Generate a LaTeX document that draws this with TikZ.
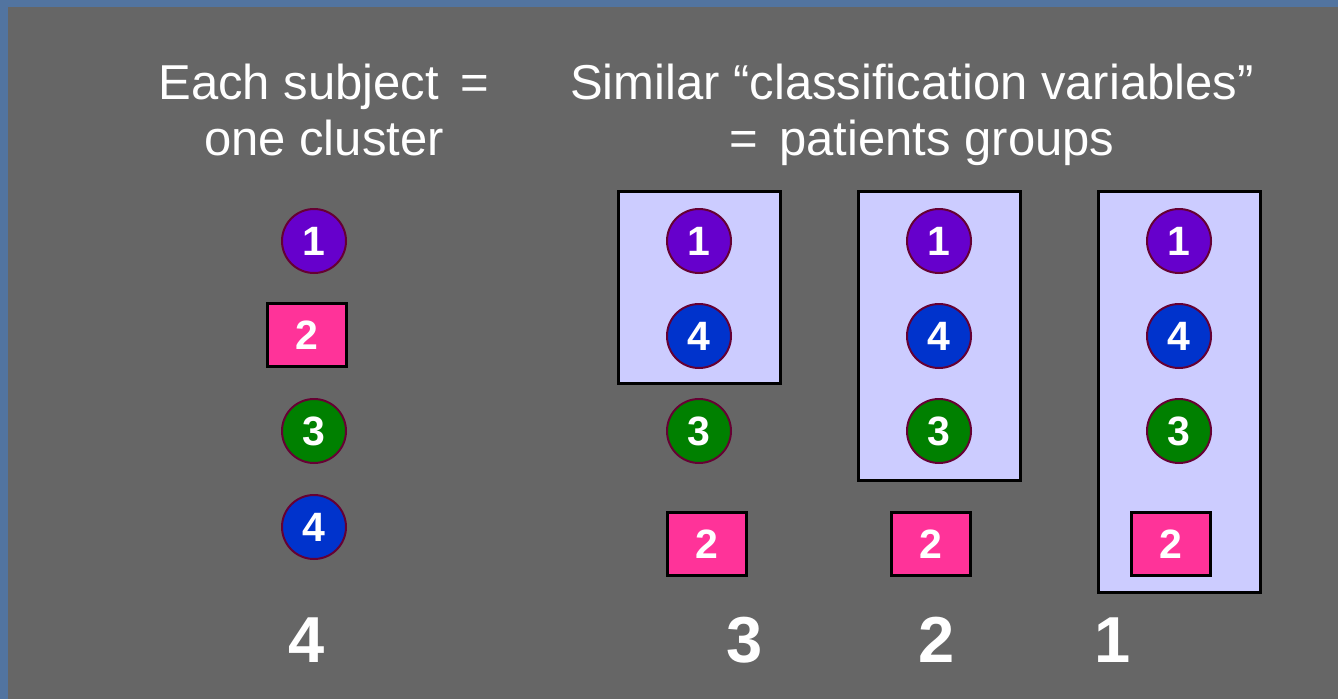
\documentclass[tikz,border=0pt]{standalone}
\usepackage{fontspec}
\setmainfont{Liberation Sans}
\definecolor{bgblue}{HTML}{5274A0}
\definecolor{panel}{HTML}{666666}
\definecolor{cpurple}{HTML}{6600CC}
\definecolor{cblue}{HTML}{0033CC}
\definecolor{cgreen}{HTML}{008000}
\definecolor{cpink}{HTML}{FF3399}
\definecolor{cedge}{HTML}{660033}
\definecolor{grpfill}{HTML}{CCCCFF}
\tikzset{
  subj/.style={circle, draw=cedge, line width=2pt, minimum size=64pt, inner sep=0pt,
    text=white, font=\fontsize{41}{41}\selectfont\bfseries},
  s1/.style={subj, fill=cpurple},
  s3/.style={subj, fill=cgreen},
  s4/.style={subj, fill=cblue},
  s2/.style={rectangle, draw=black, line width=3pt, fill=cpink, minimum width=79pt, minimum height=63pt,
    inner sep=0pt, text=white, font=\fontsize{41}{41}\selectfont\bfseries},
  grp/.style={draw=black, line width=3pt, fill=grpfill},
  title/.style={text=white, align=center, font=\fontsize{49}{56}\selectfont, inner sep=0pt},
  count/.style={text=white, font=\fontsize{65}{65}\selectfont\bfseries, inner sep=0pt}
}
\begin{document}
\begin{tikzpicture}[x=1pt,y=-1pt]
\useasboundingbox (0,0) rectangle (1338,699);
\fill[bgblue] (0,0) rectangle (1338,699);
\fill[panel] (8,7) rectangle (1338,699);
% titles (base = baseline of the last line)
\node[title, anchor=base] (t1) at (324,155) {Each subject \,=\\one cluster};
\node[title, anchor=base] (t2) at (912,155) {Similar “classification variables”\\\hspace*{0.4em}=\, patients groups};
% group boxes
\draw[grp] (618,191) rectangle (780,383);
\draw[grp] (858,191) rectangle (1020,480);
\draw[grp] (1098,191) rectangle (1260,592);
% left column
\node[s1] (a1) at (314,241) {1};
\node[s2] (a2) at (307,335) {2};
\node[s3] (a3) at (314,431) {3};
\node[s4] (a4) at (314,527) {4};
% column 2
\node[s1] (b1) at (699,241) {1};
\node[s4] (b4) at (699,336) {4};
\node[s3] (b3) at (699,431) {3};
\node[s2] (b2) at (707,544) {2};
% column 3
\node[s1] (c1) at (939,241) {1};
\node[s4] (c4) at (939,336) {4};
\node[s3] (c3) at (939,431) {3};
\node[s2] (c2) at (931,544) {2};
% column 4
\node[s1] (d1) at (1179,241) {1};
\node[s4] (d4) at (1179,336) {4};
\node[s3] (d3) at (1179,431) {3};
\node[s2] (d2) at (1171,544) {2};
% counts
\node[count, anchor=base] (n4) at (307,662) {4};
\node[count, anchor=base] (n3) at (745,662) {3};
\node[count, anchor=base] (n2) at (937,662) {2};
\node[count, anchor=base] (n1) at (1113,662) {1};
\end{tikzpicture}
\end{document}
